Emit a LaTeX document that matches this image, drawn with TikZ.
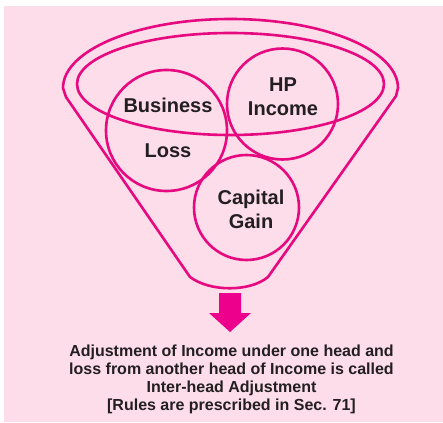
\documentclass[tikz,border=0pt]{standalone}
\usepackage{fontspec}
\setmainfont{Liberation Sans}
\definecolor{bgpink}{HTML}{FCDDE9}
\definecolor{mag}{HTML}{E6097F}
\definecolor{arrowmag}{HTML}{EC008C}
\definecolor{ink}{HTML}{231F20}
\begin{document}
\begin{tikzpicture}[x=1pt,y=-1pt,
  rim/.style={draw=mag,line width=2.6pt,line join=round},
  ring/.style={circle,draw=mag,line width=2.6pt,inner sep=0pt,minimum size=#1},
  lbl/.style={inner sep=0pt,anchor=north,align=center,text=ink,font=\bfseries\fontsize{20}{24}\selectfont},
  note/.style={inner sep=0pt,anchor=north,align=center,text=ink,font=\bfseries\fontsize{16}{18}\selectfont}]
\useasboundingbox (0,0) rectangle (443,422);
\fill[white] (0,0) rectangle (443,422);
\fill[bgpink] (4,6) rectangle (443,422);
% funnel outline
\draw[rim] (63,88) arc[start angle=180,end angle=0,x radius=167.5,y radius=-69]
  -- (396,96) -- (268,277) .. controls (250,292) and (210,292) .. (190,277)
  -- (66,97) -- cycle;
% inner rim ellipse
\draw[rim] (230.5,84) ellipse[x radius=153.5,y radius=51];
% circles
\node[ring=121pt] (bl) at (166.5,130.5) {};
\node[ring=111pt] (hp) at (282.5,104) {};
\node[ring=105pt] (cg) at (246.5,207.5) {};
% labels
\node[lbl] (tbl) at (168,98) {Business\\[21pt]Loss};
\node[lbl] (thp) at (283,78) {HP\\Income};
\node[lbl] (tcg) at (251,190) {Capital\\Gain};
% block arrow
\fill[arrowmag] (219,293) -- (241,293) -- (241,313) -- (251,313) -- (230,332) -- (209,313) -- (219,313) -- cycle;
% note
\node[note] (txt) at (231.5,345) {Adjustment of Income under one head and\\loss from another head of Income is called\\Inter-head Adjustment\\{[}Rules are prescribed in Sec. 71{]}};
\end{tikzpicture}
\end{document}
